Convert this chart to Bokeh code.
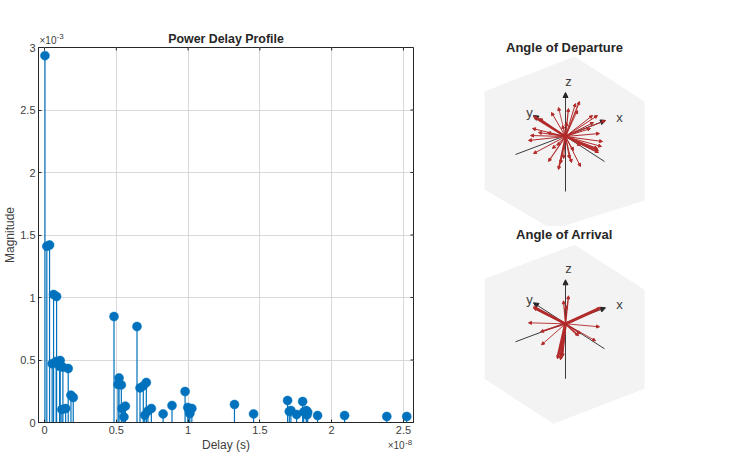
from bokeh.embed import file_html
from bokeh.resources import INLINE
from bokeh.plotting import figure
from bokeh.layouts import row, column
from bokeh.core.properties import value
from bokeh.models import (Arrow, ColumnDataSource, FixedTicker, Label,
                          NormalHead, Range1d)

FONT = "Liberation Sans"
TXT = "#404040"
DARK = "#262626"
BLUE = "#0072BD"
RED = "#B22A2A"

# Power delay profile: delay (x 1e-8 s), magnitude (x 1e-3)
delay = [0.003, 0.016, 0.035, 0.063, 0.084, 0.053, 0.081, 0.109, 0.105, 0.128, 0.165,
         0.121, 0.147, 0.184, 0.200, 0.484, 0.644, 0.519, 0.512, 0.535, 0.563, 0.540,
         0.553, 0.665, 0.688, 0.709, 0.698, 0.720, 0.744, 0.826, 0.888, 0.979, 0.998,
         1.026, 1.012, 1.007, 1.323, 1.456, 1.693, 1.705, 1.716, 1.756, 1.798, 1.805,
         1.823, 1.833, 1.828, 1.902, 2.090, 2.384, 2.523]
magnitude = [2.935, 1.41, 1.42, 1.024, 1.008, 0.470, 0.488, 0.496, 0.450, 0.443, 0.432,
             0.104, 0.112, 0.219, 0.200, 0.848, 0.768, 0.357, 0.304, 0.301, 0.131, 0.112,
             0.045, 0.277, 0.293, 0.320, 0.059, 0.093, 0.112, 0.069, 0.136, 0.248, 0.120,
             0.112, 0.072, 0.100, 0.144, 0.069, 0.176, 0.088, 0.096, 0.064, 0.168, 0.085,
             0.096, 0.083, 0.061, 0.056, 0.056, 0.048, 0.048]
x_ticks = [0, 0.5, 1, 1.5, 2, 2.5]
x_labels = ["0", "0.5", "1", "1.5", "2", "2.5"]
y_ticks = [0, 0.5, 1, 1.5, 2, 2.5, 3]
y_labels = ["0", "0.5", "1", "1.5", "2", "2.5", "3"]

# Projected unit cube outline (hexagon), relative to the origin of each sphere view
hex_dep_x = [9, 79, 79, -13, -81, -81]
hex_dep_y = [80, 35, -64, -93, -53, 45]
hex_arr_x = [9, 79, 79, -12, -81, -81]
hex_arr_y = [79, 34, -65, -100, -55, 45]

# Projected coordinate axes: start and end
axis_x0 = [0, -50, 39]
axis_y0 = [-55, -18, -25]
axis_x1 = [0, 40, -32]
axis_y1 = [44, 16, 21]
axis_names = ["z", "x", "y"]
axis_label_x = [3, 54, -36]
axis_label_y = [55, 19, 24]

# Projected ray directions, angle of departure
dep_x = [-32, -33, -37, -32, -17, -7, -5, 6, 15, 8, 33, 32, 36, 37, 34, 32, 40, 27, 14, 10,
         3, -7, -14, -3, -35, -18, -26, 1, 28, 25, 15, -13, -2, 4, -8, -27, 33, 12]
dep_y = [20, 8, -4, -17, -25, -33, -27, -26, -30, -14, -16, -12, -10, -5, 3, 21, 16, 21, 35, 33,
         28, 29, 24, 11, 1, 4, 18, 14, 14, 8, -9, -12, -22, -22, -9, 4, -14, 26]
dep_w = [2.2, 1, 1, 1, 1.2, 1.6, 1, 1, 1, 0.8, 1.8, 1.2, 1, 1, 1, 1, 1, 1, 1.2, 1,
         1.2, 0.8, 1, 0.8, 1, 1, 1.4, 0.8, 1, 1, 0.8, 0.8, 1, 1, 0.8, 1, 1.4, 0.8]

# Projected ray directions, angle of arrival
arr_x = [-32, -37, -25, -24, -5, -8, -3, 30, 13, 34, 35, 3, -2, 1, 15, -32]
arr_y = [17, 1, -8, -21, -36, -35, -33, -17, -12, -3, 16, 28, 23, 18, -10, 16]
arr_w = [2.6, 0.9, 1.6, 0.9, 2.8, 2.8, 1.6, 0.9, 1.6, 0.9, 3, 1.4, 1.2, 0.8, 1.2, 2]

X0, X1, Y0, Y1 = -0.042, 2.57, 0, 3
TX = 3 * (X1 - X0) / 375
TY = 3 * (Y1 - Y0) / 375


def style_box_axis(ax, ticks, labels):
    ax.ticker = FixedTicker(ticks=ticks)
    ax.major_label_overrides = dict(zip(ticks, labels))
    ax.axis_line_color = DARK
    ax.axis_line_width = 1
    ax.major_tick_line_color = DARK
    ax.major_tick_in = 3
    ax.major_tick_out = 0
    ax.minor_tick_line_color = None
    ax.major_label_text_font = FONT
    ax.major_label_text_font_size = "11px"
    ax.major_label_text_color = TXT
    ax.major_label_standoff = 3
    ax.axis_label_text_font = FONT
    ax.axis_label_text_font_size = "12px"
    ax.axis_label_text_font_style = "normal"
    ax.axis_label_text_color = TXT
    ax.axis_label_standoff = 1


p = figure(width=470, height=462, frame_width=375, frame_height=375,
           output_backend="svg", toolbar_location=None,
           x_range=Range1d(X0, X1), y_range=Range1d(Y0, Y1),
           min_border_left=38, min_border_right=57, min_border_top=47, min_border_bottom=40,
           title="Power Delay Profile", x_axis_label="Delay (s)", y_axis_label="Magnitude")
p.title.align = "center"
p.title.text_font = FONT
p.title.text_font_size = "12.4px"
p.title.text_font_style = "bold"
p.title.text_color = DARK
p.title.offset = 0
p.title.standoff = 4
p.outline_line_color = DARK
p.background_fill_color = "white"

style_box_axis(p.xaxis[0], x_ticks, x_labels)
style_box_axis(p.yaxis[0], y_ticks, y_labels)
p.yaxis[0].axis_label_standoff = 0

p.xgrid.ticker = FixedTicker(ticks=x_ticks)
p.ygrid.ticker = FixedTicker(ticks=y_ticks)
p.xgrid.grid_line_color = "#D9D9D9"
p.ygrid.grid_line_color = "#D9D9D9"

# inward ticks on the top and right edges of the box
p.segment(x_ticks, [Y1] * len(x_ticks), x_ticks, [Y1 - TY] * len(x_ticks), line_color=DARK, line_width=1)
p.segment([X1] * len(y_ticks), y_ticks, [X1 - TX] * len(y_ticks), y_ticks, line_color=DARK, line_width=1)

src = ColumnDataSource(dict(x=delay, y=magnitude, y0=[0] * len(delay)))
p.segment("x", "y0", "x", "y", source=src, line_color=BLUE, line_width=1.2)
p.scatter("x", "y", source=src, size=9, fill_color=BLUE, line_color=BLUE, line_width=0.5)

# axis exponents: text glyphs in the overlay level are not clipped to the frame
for txt, dx, dy, fs in [("×10", -0.035, 3.056, "10px"), ("-3", 0.084, 3.088, "8px"),
                        ("×10", 2.390, -0.184, "10px"), ("-8", 2.512, -0.158, "8px")]:
    p.text([dx], [dy], text=[txt], text_font=value(FONT), text_font_size=value(fs),
           text_color=TXT, text_align="left", text_baseline="middle", level="overlay")


def sphere(title, title_y, h, xr, yr, hx, hy, rx, ry, rw):
    f = figure(width=200, height=h, output_backend="svg", toolbar_location=None,
               x_range=Range1d(*xr), y_range=Range1d(*yr),
               min_border_left=0, min_border_right=0, min_border_top=0, min_border_bottom=0)
    f.axis.visible = False
    f.grid.visible = False
    f.outline_line_color = None
    f.patch(hx, hy, fill_color="#F3F3F3", line_color=None)
    f.text([0], [title_y], text=[title], text_font=value(FONT), text_font_size=value("13px"),
           text_font_style="bold", text_color=DARK, text_align="center", text_baseline="middle",
           x_offset=-1)
    ax_src = ColumnDataSource(dict(x0=axis_x0, y0=axis_y0, x1=axis_x1, y1=axis_y1))
    f.add_layout(Arrow(end=NormalHead(size=5, fill_color=DARK, line_color=DARK),
                       x_start="x0", y_start="y0", x_end="x1", y_end="y1",
                       source=ax_src, line_color=DARK, line_width=0.9))
    ray_src = ColumnDataSource(dict(x0=[0] * len(rx), y0=[0] * len(rx), x1=rx, y1=ry, w=rw))
    f.add_layout(Arrow(end=NormalHead(size=3, fill_color=RED, line_color=RED),
                       x_start="x0", y_start="y0", x_end="x1", y_end="y1",
                       source=ray_src, line_color=RED, line_width="w"))
    for name, lx, ly in zip(axis_names, axis_label_x, axis_label_y):
        f.add_layout(Label(x=lx, y=ly, text=name, text_font=FONT, text_font_size="13px",
                           text_color=TXT, text_align="center", text_baseline="middle"))
    return f


p2 = sphere("Angle of Departure", 89, 226, (-95, 105), (-90, 136), hex_dep_x, hex_dep_y,
            dep_x, dep_y, dep_w)
p3 = sphere("Angle of Arrival", 89.3, 236, (-95, 105), (-138.7, 97.3), hex_arr_x, hex_arr_y,
            arr_x, arr_y, arr_w)

layout = row(p, column(p2, p3, spacing=0), spacing=0)
open("out.html", "w").write(file_html(layout, INLINE))
